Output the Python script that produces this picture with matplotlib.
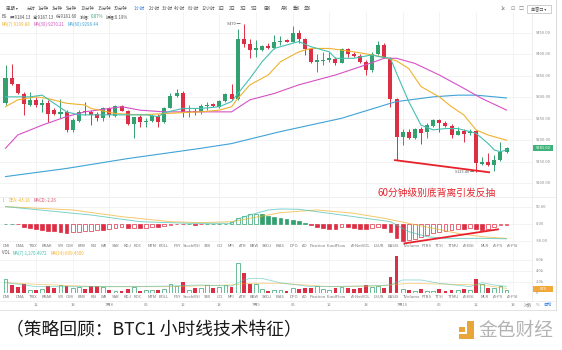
import matplotlib
matplotlib.use("Agg")
import matplotlib.pyplot as plt
from matplotlib.patches import Rectangle
import numpy as np

plt.rcParams['font.family'] = ['Noto Sans CJK SC', 'DejaVu Sans']

W, H = 562, 350
GREEN = "#33a070"
RED = "#dc2f45"
TEAL = "#45c0b2"
ORANGE = "#f1b12e"
MAGENTA = "#d551c6"
BLUE = "#3ea3d8"
GRID = "#f1f1f1"
LABEL = "#8a8a8a"

# BTC 1h candles, 7月7 07:00 -> 7月10 17:00
opens = [9287, 9346, 9330, 9308, 9282, 9294, 9282, 9286, 9270, 9261,
         9266, 9224, 9245, 9268, 9266, 9260, 9252, 9274, 9257, 9280,
         9268, 9237, 9255, 9243, 9244, 9257, 9243, 9276, 9303, 9309,
         9265, 9268, 9266, 9279, 9284, 9278, 9291, 9308, 9296, 9436,
         9424, 9410, 9410, 9420, 9414, 9430, 9434, 9430, 9449, 9436,
         9412, 9383, 9385, 9388, 9389, 9381, 9412, 9402, 9397, 9383,
         9364, 9400, 9423, 9392, 9296, 9208, 9218, 9206, 9227, 9218,
         9234, 9247, 9241, 9234, 9213, 9221, 9216, 9221, 9144, 9150,
         9142, 9154, 9173]
highs = [9375, 9378, 9332, 9313, 9313, 9301, 9297, 9293, 9274, 9297,
         9270, 9251, 9270, 9290, 9270, 9266, 9278, 9278, 9283, 9283,
         9270, 9255, 9259, 9251, 9260, 9262, 9278, 9309, 9319, 9315,
         9282, 9276, 9284, 9288, 9286, 9294, 9309, 9330, 9459, 9470,
         9437, 9434, 9422, 9426, 9445, 9444, 9436, 9466, 9457, 9439,
         9414, 9402, 9405, 9406, 9395, 9416, 9416, 9405, 9400, 9387,
         9405, 9431, 9427, 9395, 9299, 9227, 9227, 9229, 9231, 9239,
         9249, 9249, 9245, 9237, 9231, 9227, 9227, 9224, 9161, 9169,
         9165, 9196, 9184]
lows = [9282, 9329, 9308, 9259, 9280, 9278, 9266, 9243, 9259, 9251,
        9220, 9220, 9243, 9259, 9235, 9245, 9245, 9255, 9255, 9267,
        9235, 9204, 9231, 9231, 9243, 9231, 9241, 9274, 9301, 9255,
        9255, 9259, 9262, 9270, 9278, 9276, 9290, 9294, 9294, 9418,
        9392, 9395, 9408, 9413, 9413, 9422, 9428, 9428, 9426, 9399,
        9381, 9360, 9375, 9383, 9375, 9379, 9395, 9395, 9379, 9352,
        9360, 9399, 9391, 9278, 9154, 9189, 9203, 9203, 9190, 9206,
        9231, 9220, 9231, 9206, 9212, 9196, 9213, 9125.40, 9142, 9140,
        9128, 9151, 9171]
closes = [9346, 9330, 9309, 9284, 9294, 9282, 9286, 9261, 9261, 9265,
          9224, 9247, 9266, 9265, 9259, 9252, 9274, 9259, 9280, 9268,
          9237, 9255, 9243, 9244, 9257, 9243, 9276, 9303, 9309, 9266,
          9268, 9265, 9280, 9282, 9280, 9291, 9308, 9296, 9436, 9424,
          9410, 9414, 9420, 9414, 9430, 9432, 9430, 9449, 9437, 9412,
          9383, 9387, 9388, 9391, 9379, 9412, 9402, 9397, 9383, 9364,
          9400, 9423, 9392, 9296, 9208, 9220, 9206, 9227, 9216, 9235,
          9247, 9241, 9234, 9213, 9221, 9215, 9221, 9146, 9150, 9143,
          9154, 9173, 9181.60]
volumes = [2545, 1515, 1150, 1700, 600, 600, 730, 1330, 1030, 1450,
           1330, 900, 1090, 790, 1270, 1330, 1150, 600, 480, 420,
           850, 1090, 480, 600, 600, 600, 790, 1700, 1330, 2060,
           600, 900, 1030, 1450, 970, 1210, 1515, 1210, 5450, 3760,
           1640, 1640, 730, 480, 600, 600, 480, 900, 730, 1030,
           1030, 1330, 730, 600, 1030, 1090, 900, 730, 900, 1515,
           1210, 1330, 1030, 3030, 6790, 850, 600, 480, 730, 480,
           480, 730, 480, 600, 600, 730, 600, 2545, 1640, 900,
           900, 1390, 670]
macd_hist = [1, 1, -1, -8, -13, -16, -18, -20, -21, -23,
             -28, -25, -23, -21, -20, -19, -19, -16, -11, -9,
             -13, -12, -13, -11, -10, -10, -6, -2, -1, -0.5,
             0.5, -3, -1, 0.5, 0.5, 1, 1, 5, 19, 25,
             29, 30, 29, 25, 22, 19, 15, 13, 9, 4,
             -3, -10, -13, -15, -16, -10, -10, -13, -15, -16,
             -13, -10, -13, -25, -41, -50, -48, -45, -38, -33,
             -26, -23, -21, -18, -16, -16, -13, -16, -18, -16,
             -10, -3, -2.26]

# moving averages, read at selected candles
ma5_idx = [0, 4, 6, 10, 12, 16, 20, 23, 25, 26, 29, 32, 35, 37, 40, 42, 44, 47, 48, 50,
           53, 54, 57, 60, 61, 63, 64, 66, 68, 70, 72, 74, 76, 77, 79, 80, 81, 82]
ma5_val = [9301, 9301, 9305, 9266, 9259, 9259, 9259, 9259, 9255, 9264, 9274, 9274, 9278,
           9290, 9344, 9383, 9414, 9426, 9430, 9418, 9406, 9391, 9391, 9399, 9395, 9391,
           9356, 9290, 9235, 9224, 9227, 9227, 9220, 9216, 9192, 9177, 9173, 9177]
ma7_idx = [0, 2, 5, 7, 10, 13, 14, 18, 22, 26, 30, 32, 35, 37, 38, 40, 43, 45, 48, 50,
           53, 55, 57, 60, 62, 64, 66, 68, 71, 73, 75, 77, 79, 82]
ma7_val = [9278, 9294, 9301, 9297, 9286, 9282, 9274, 9262, 9259, 9262, 9265, 9266, 9270,
           9278, 9297, 9329, 9352, 9383, 9406, 9414, 9414, 9410, 9406, 9399, 9393, 9385,
           9367, 9325, 9301, 9278, 9259, 9224, 9212, 9199.88]
ma30_idx = [0, 2, 6, 10, 13, 17, 19, 22, 26, 32, 37, 40, 44, 48, 54, 58, 62, 64, 67, 71,
            75, 78, 82]
ma30_val = [9181, 9212, 9235, 9255, 9266, 9274, 9278, 9270, 9266, 9266, 9266, 9294, 9309,
            9329, 9352, 9371, 9391, 9391, 9379, 9352, 9321, 9297, 9270.21]
ma60_idx = [0, 10, 20, 32, 37, 45, 55, 63, 64, 70, 74, 77, 82]
ma60_val = [9115, 9134, 9157, 9181, 9192, 9220, 9251, 9286, 9290, 9301, 9305, 9305, 9298.44]

dif_idx = [0, 14, 22, 30, 37, 38, 40, 43, 45, 48, 53, 59, 63, 66, 69, 72, 78, 82]
dif_val = [52, 27, 7, 2, 2, 15, 27, 42, 45, 44, 32, 17, 7, -23, -38, -43, -43, -44.31]
dea_idx = [0, 11, 19, 27, 32, 37, 43, 45, 51, 57, 62, 66, 70, 74, 78, 82]
dea_val = [52, 42, 22, 7, 4, 7, 27, 34, 42, 32, 17, 2, -13, -28, -38, -43.18]

vma7_idx = [0, 3, 5, 21, 27, 32, 37, 39, 40, 42, 45, 50, 59, 63, 65, 68, 71, 76, 78, 80, 82]
vma7_val = [1940, 1515, 1210, 1210, 1330, 1515, 1330, 2400, 2700, 2700, 1900, 1210, 1330,
            1515, 2420, 2420, 1820, 1210, 1940, 1500, 1270.4972]
vma14_idx = [0, 5, 15, 27, 37, 40, 45, 53, 61, 66, 78, 82]
vma14_val = [1940, 1636, 1210, 1210, 1515, 1820, 1820, 1210, 1330, 1820, 1500, 899.45]

time_labels = ["12", "18", "7月8", "06", "12", "18", "7月9", "06", "12", "18",
               "7月10", "06", "12", "18"]
price_levels = [9450, 9400, 9350, 9300, 9250, 9200, 9150, 9100]
macd_levels = [50, 0, -50]
vol_levels = [6000, 4000, 2000]

toolbar = ["周期 ▾", "分时", "1分钟", "3分钟", "5分钟", "10分钟", "15分钟", "30分钟",
           "1小时", "2小时", "3小时", "4小时", "6小时", "12小时", "1日", "2日", "3日",
           "5日", "周K", "月K", "季K", "年K"]
toolbar_x = [12, 31, 43, 57, 71, 87, 104, 121, 139, 154, 167, 180, 193, 208, 221, 232,
             243, 254, 267, 285, 296, 307]
tabs = ["DMI", "DMA", "TRIX", "BRAR", "VR", "OBV", "EMV", "RSI", "WR", "SAR", "KDJ",
        "ROC", "MTM", "BOLL", "PSY", "StochRSI", "SMI", "CCI", "MFI", "ATR", "BBW",
        "SKDJ", "BIAS", "DPO", "AO", "Position", "FundFlow", "AI-NetVOL", "LSUR",
        "BASIS", "TVolume", "FTBS", "TTSI", "TTMU", "AI-BSI", "MLR", "AI-PS", "AI-PSI"]
tabs_x = [6, 20, 33, 47, 61, 70, 82, 94, 104, 116, 127, 138, 152, 164, 177, 192, 207,
          220, 231, 243, 254, 267, 280, 294, 305, 318, 336, 361, 379, 393, 412, 427,
          439, 454, 469, 485, 498, 513]

fig = plt.figure(figsize=(W / 100, H / 100), dpi=100)
fig.patch.set_facecolor("white")

X0, XSTEP = 5.5, 6.11
XLIM = (-X0 / XSTEP, (532 - X0) / XSTEP)
PX_PRICE = 0.4286   # px per price unit
PX_MACD = 0.334     # px per MACD unit


def px_axes(left, top, width, height):
    a = fig.add_axes([left / W, 1 - (top + height) / H, width / W, height / H])
    a.set_facecolor("none")
    for s in a.spines.values():
        s.set_visible(False)
    a.set_xticks([])
    a.set_yticks([])
    a.set_xlim(*XLIM)
    return a


def txt(x, y, s, size=3.3, color=LABEL, **kw):
    kw.setdefault("va", "center")
    return fig.text(x / W, 1 - y / H, s, fontsize=size, color=color, **kw)


def txt_seq(x, y, parts, size=3.3, gap=2.5):
    r = fig.canvas.get_renderer()
    for s, col in parts:
        t = txt(x, y, s, size=size, color=col)
        x += t.get_window_extent(renderer=r).width + gap


def hline(y, x0=0, x1=556, color="#e8e8e8", lw=0.5):
    fig.add_artist(plt.Line2D([x0 / W, x1 / W], [1 - y / H, 1 - y / H],
                              color=color, lw=lw))


idx = np.arange(len(opens))
o, h, l, c = map(np.array, (opens, highs, lows, closes))
up = c >= o
candle_col = np.where(up, GREEN, RED)
grid_x = np.arange(5, len(opens) + 4, 6)

# ---- price panel
ax = px_axes(0, 12, 532, 184)
ax.set_ylim(9450 - 163 / PX_PRICE, 9450 + 21 / PX_PRICE)
for p in price_levels:
    ax.axhline(p, color=GRID, lw=0.6, zorder=0)
for gx in grid_x:
    ax.axvline(gx, color=GRID, lw=0.6, zorder=0)
ax.vlines(idx, l, h, color=candle_col, lw=0.7, zorder=2)
ax.bar(idx, np.maximum(np.abs(c - o), 0.9), bottom=np.minimum(o, c), width=0.66,
       color=candle_col, lw=0, zorder=3)
for mi, mv, col in [(ma60_idx, ma60_val, BLUE), (ma30_idx, ma30_val, MAGENTA),
                    (ma7_idx, ma7_val, ORANGE), (ma5_idx, ma5_val, TEAL)]:
    ax.plot(mi, mv, color=col, lw=0.8, zorder=4)

hi = int(np.argmax(h))
ax.text(hi - 0.5, h[hi], f"{h[hi]:.0f} ─", ha="right", va="center", fontsize=2.8,
        color="#555555")
lo = int(np.argmin(l))
ax.text(lo - 0.3, l[lo], f"{l[lo]:.2f} ─", ha="right", va="center", fontsize=2.8,
        color="#555555")

# bottom divergence line on price
ax.plot([63.6, 79.3], [9153.6, 9124.8], color="#e8202a", lw=1.3, zorder=5,
        solid_capstyle="butt")

# ---- MACD panel
am = px_axes(0, 197, 532, 46.5)
am.set_ylim(-19.5 / PX_MACD, 27 / PX_MACD)
for v in macd_levels:
    am.axhline(v, color=GRID, lw=0.6, zorder=0)
for gx in grid_x:
    am.axvline(gx, color=GRID, lw=0.6, zorder=0)
hist = np.array(macd_hist)
prev = np.concatenate([[hist[0]], hist[:-1]])
for i, v in enumerate(hist):
    col = GREEN if v >= 0 else RED
    hollow = v > prev[i]
    am.bar(i, v, width=0.62, facecolor="white" if hollow else col, edgecolor=col,
           lw=0.5, zorder=3)
am.plot(dea_idx, dea_val, color=ORANGE, lw=0.7, alpha=0.7, zorder=4)
am.plot(dif_idx, dif_val, color=TEAL, lw=0.7, alpha=0.7, zorder=4)
am.plot([65.3, 80.6], [-58, -16], color="#e8202a", lw=1.3, zorder=5, clip_on=False)

# ---- volume panel
av = px_axes(0, 249.3, 532, 44)
av.set_ylim(0, 8000)
for v in vol_levels:
    av.axhline(v, color=GRID, lw=0.6, zorder=0)
for gx in grid_x:
    av.axvline(gx, color=GRID, lw=0.6, zorder=0)
for i, v in enumerate(volumes):
    if up[i]:
        av.bar(i, v, width=0.62, facecolor="white", edgecolor=GREEN, lw=0.5, zorder=3)
    else:
        av.bar(i, v, width=0.62, color=RED, lw=0, zorder=3)
av.plot(vma14_idx, vma14_val, color=ORANGE, lw=0.6, alpha=0.6, zorder=4)
av.plot(vma7_idx, vma7_val, color=TEAL, lw=0.6, alpha=0.6, zorder=4)

# ---- frame lines
hline(196.5)
hline(300.5)
hline(310, color="#dddddd", lw=0.6)
fig.add_artist(plt.Line2D([532 / W, 532 / W], [1 - 12 / H, 1 - 300 / H],
                          color="#e6e6e6", lw=0.5))
fig.add_artist(plt.Line2D([556 / W, 556 / W], [1 - 0 / H, 1 - 310 / H],
                          color="#dcdcdc", lw=0.8))

# right axis labels
for p in price_levels:
    txt(536, 33 + (9450 - p) * PX_PRICE, f"{p:.2f}", size=3.0)
for v in macd_levels:
    txt(536, 224 - v * PX_MACD, f"{v:.2f}", size=3.0)
for v in vol_levels:
    txt(536, 293.3 - v / 2000 * 11, f"{v / 1000:.1f}k", size=3.0)
txt(536, 293.3, "0", size=3.0)

# last price / volume tags
yp = 33 + (9450 - closes[-1]) * PX_PRICE
fig.add_artist(Rectangle((533 / W, 1 - (yp + 3.3) / H), 20 / W, 6.6 / H,
                         color="#3fb47a", lw=0))
txt(543, yp, f"{closes[-1]:.2f}", size=3.0, color="white", ha="center")
fig.add_artist(Rectangle((533 / W, 1 - (291.5) / H), 20 / W, 5.5 / H,
                         color="#f2a93b", lw=0))
txt(543, 288.7, f"{volumes[-1]}", size=3.0, color="white", ha="center")

# toolbar
for s, x in zip(toolbar, toolbar_x):
    txt(x, 8, s, size=3.2, color="#2a7ae2" if s == "1小时" else "#555555", ha="center")
txt(503, 9, "1x", size=3.2, color="#666666", ha="center")
txt(513, 9, "⊡", size=3.6, color="#888888", ha="center")
txt(521, 9, "□", size=3.6, color="#888888", ha="center")
fig.add_artist(Rectangle((527 / W, 1 - 12.5 / H), 24 / W, 7 / H, fill=False,
                         edgecolor="#bbbbbb", lw=0.5))
txt(539, 9, "单窗口 ▾", size=3.0, color="#555555", ha="center")

# legends
txt_seq(2, 17, [("BS", "#555555"), ("开:9184.13", "#555555"), ("高:9187.13", "#555555"),
                ("低:9181.60", "#555555"), ("涨幅:", "#555555"), ("0.07%", GREEN),
                ("振幅:0.19%", "#555555")], size=3.1, gap=2.0)
txt_seq(2, 24, [(f"MA(7):{ma7_val[-1]:.2f}", ORANGE), (f"MA(30):{ma30_val[-1]:.2f}", MAGENTA),
                (f"MA(60):{ma60_val[-1]:.2f}", BLUE)], size=3.1, gap=3)
txt_seq(3, 200.5, [("II", TEAL), (f"DEA:{dea_val[-1]:.2f}", ORANGE),
                   (f"MACD:{macd_hist[-1]:.2f}", "#d9546a")], size=3.1, gap=3)
txt_seq(2, 253, [("VOL", "#555555"), (f"MA(7):{vma7_val[-1]:,.4f}", TEAL),
                 (f"MA(14):{vma14_val[-1]:,.4f}", ORANGE)], size=3.1, gap=3)

# indicator tabs
for y in (246, 297.5):
    for s, x in zip(tabs, tabs_x):
        txt(x, y, s, size=3.0, color="#777777", ha="center")

# time axis
for k, s in enumerate(time_labels):
    txt(X0 + grid_x[k] * XSTEP, 305, s, size=3.0, ha="center")
txt(528, 305, "对数", size=3.0, ha="center")
txt(538, 305, "%", size=3.0, ha="center")
txt(547, 305, "自动", size=3.0, color="#2a7ae2", ha="center")

# annotation
txt(377, 193, "60分钟级别底背离引发反抽", size=7.0, color="#e3262e")

# caption and logo
txt(6, 330, "（策略回顾：BTC1 小时线技术特征）", size=12.8, color="#1a1a1a")
GOLD = "#e7a53a"
fig.add_artist(Rectangle((467 / W, 1 - 339 / H), 6.5 / W, 18 / H, color=GOLD, lw=0))
fig.add_artist(Rectangle((459 / W, 1 - 339 / H), 14.5 / W, 5 / H, color=GOLD, lw=0))
fig.add_artist(Rectangle((459 / W, 1 - 332 / H), 5.5 / W, 5.5 / H, color=GOLD, lw=0))
txt(478, 330, "金色财经", size=13.5, color="#b3b3b3")

fig.savefig("out.png", dpi=100, facecolor="white")
